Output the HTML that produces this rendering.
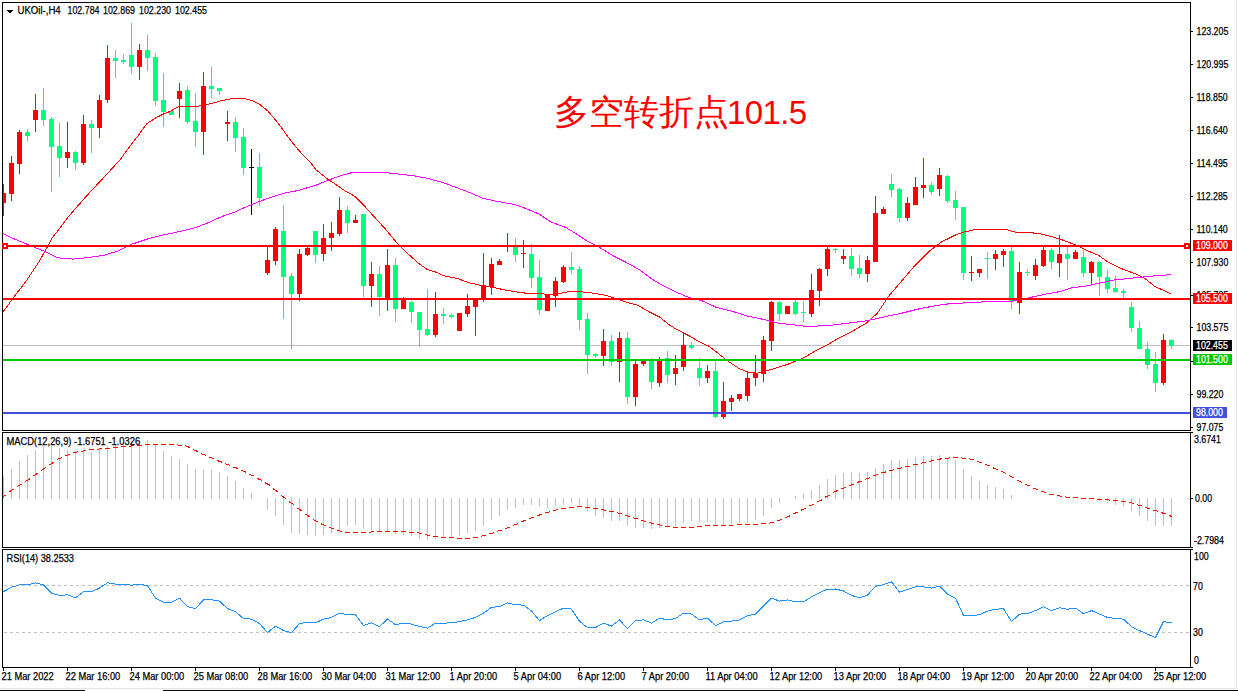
<!DOCTYPE html>
<html><head><meta charset="utf-8"><style>
html,body{margin:0;padding:0;background:#fff;}
body{width:1238px;height:691px;overflow:hidden;position:relative;}
svg{position:absolute;left:0;top:0;}
text{font-family:"Liberation Sans",sans-serif;font-size:10px;stroke-width:0.25px;}
.cn{position:absolute;left:554px;top:92px;color:#ff0000;font-family:"Liberation Sans",sans-serif;font-size:34.5px;white-space:nowrap;line-height:40px;}
.cd{position:absolute;left:727px;top:92.5px;color:#ff0000;font-family:"Liberation Sans",sans-serif;font-size:33px;white-space:nowrap;line-height:40px;letter-spacing:-0.6px;}
</style></head><body>
<svg width="1238" height="691" viewBox="0 0 1238 691" shape-rendering="crispEdges">
<defs>
<clipPath id="cm"><rect x="3" y="3" width="1187" height="427"/></clipPath>
<clipPath id="cd"><rect x="3" y="433" width="1187" height="114"/></clipPath>
<clipPath id="cr"><rect x="3" y="550" width="1187" height="117"/></clipPath>
</defs>
<rect x="1236" y="0" width="1" height="689" fill="#e3e3e3"/>
<rect x="0" y="688" width="1237" height="1" fill="#e3e3e3"/>
<rect x="0" y="690" width="85" height="1" fill="#000"/>
<rect x="163" y="690" width="1075" height="1" fill="#000"/>
<rect x="2" y="2" width="1189" height="1" fill="#000"/>
<rect x="2" y="430" width="1189" height="1" fill="#000"/>
<rect x="2" y="2" width="1" height="429" fill="#000"/>
<rect x="1190" y="2" width="1" height="429" fill="#000"/>
<rect x="2" y="432" width="1189" height="1" fill="#000"/>
<rect x="2" y="547" width="1189" height="1" fill="#000"/>
<rect x="2" y="432" width="1" height="116" fill="#000"/>
<rect x="1190" y="432" width="1" height="116" fill="#000"/>
<rect x="2" y="549" width="1189" height="1" fill="#000"/>
<rect x="2" y="667" width="1189" height="1" fill="#000"/>
<rect x="2" y="549" width="1" height="119" fill="#000"/>
<rect x="1190" y="549" width="1" height="119" fill="#000"/>
<g clip-path="url(#cm)">
<rect x="3" y="345" width="1187" height="1" fill="#c0c0c0"/>
<rect x="3" y="184" width="1" height="32" fill="#ff0000"/>
<rect x="1" y="193" width="5" height="10" fill="#ff0000"/>
<rect x="11" y="156" width="1" height="45" fill="#ff0000"/>
<rect x="9" y="163" width="5" height="31" fill="#ff0000"/>
<rect x="19" y="130" width="1" height="44" fill="#ff0000"/>
<rect x="17" y="132" width="5" height="32" fill="#ff0000"/>
<rect x="27" y="129" width="1" height="12" fill="#00ff7f"/>
<rect x="25" y="132" width="5" height="4" fill="#00ff7f"/>
<rect x="35" y="94" width="1" height="38" fill="#ff0000"/>
<rect x="33" y="110" width="5" height="10" fill="#ff0000"/>
<rect x="43" y="88" width="1" height="38" fill="#00ff7f"/>
<rect x="41" y="110" width="5" height="10" fill="#00ff7f"/>
<rect x="51" y="117" width="1" height="75" fill="#00ff7f"/>
<rect x="49" y="119" width="5" height="28" fill="#00ff7f"/>
<rect x="59" y="123" width="1" height="54" fill="#00ff7f"/>
<rect x="57" y="146" width="5" height="12" fill="#00ff7f"/>
<rect x="67" y="122" width="1" height="46" fill="#ff0000"/>
<rect x="65" y="152" width="5" height="6" fill="#ff0000"/>
<rect x="75" y="151" width="1" height="19" fill="#00ff7f"/>
<rect x="73" y="152" width="5" height="11" fill="#00ff7f"/>
<rect x="83" y="115" width="1" height="50" fill="#ff0000"/>
<rect x="81" y="124" width="5" height="39" fill="#ff0000"/>
<rect x="91" y="120" width="1" height="33" fill="#00ff7f"/>
<rect x="89" y="124" width="5" height="4" fill="#00ff7f"/>
<rect x="99" y="95" width="1" height="43" fill="#ff0000"/>
<rect x="97" y="100" width="5" height="28" fill="#ff0000"/>
<rect x="107" y="45" width="1" height="58" fill="#ff0000"/>
<rect x="105" y="58" width="5" height="42" fill="#ff0000"/>
<rect x="115" y="50" width="1" height="28" fill="#00ff7f"/>
<rect x="113" y="58" width="5" height="3" fill="#00ff7f"/>
<rect x="123" y="54" width="1" height="10" fill="#00ff7f"/>
<rect x="121" y="60" width="5" height="2" fill="#00ff7f"/>
<rect x="131" y="23" width="1" height="51" fill="#00ff7f"/>
<rect x="129" y="55" width="5" height="12" fill="#00ff7f"/>
<rect x="139" y="44" width="1" height="36" fill="#ff0000"/>
<rect x="137" y="50" width="5" height="17" fill="#ff0000"/>
<rect x="147" y="35" width="1" height="36" fill="#00ff7f"/>
<rect x="145" y="50" width="5" height="8" fill="#00ff7f"/>
<rect x="155" y="53" width="1" height="53" fill="#00ff7f"/>
<rect x="153" y="57" width="5" height="44" fill="#00ff7f"/>
<rect x="163" y="73" width="1" height="54" fill="#00ff7f"/>
<rect x="161" y="100" width="5" height="12" fill="#00ff7f"/>
<rect x="171" y="111" width="1" height="4" fill="#00ff7f"/>
<rect x="169" y="111" width="5" height="4" fill="#00ff7f"/>
<rect x="179" y="83" width="1" height="35" fill="#ff0000"/>
<rect x="177" y="91" width="5" height="8" fill="#ff0000"/>
<rect x="187" y="86" width="1" height="38" fill="#00ff7f"/>
<rect x="185" y="90" width="5" height="32" fill="#00ff7f"/>
<rect x="195" y="93" width="1" height="54" fill="#00ff7f"/>
<rect x="193" y="121" width="5" height="11" fill="#00ff7f"/>
<rect x="203" y="72" width="1" height="83" fill="#ff0000"/>
<rect x="201" y="86" width="5" height="46" fill="#ff0000"/>
<rect x="211" y="67" width="1" height="31" fill="#00ff7f"/>
<rect x="209" y="86" width="5" height="3" fill="#00ff7f"/>
<rect x="219" y="88" width="1" height="7" fill="#00ff7f"/>
<rect x="217" y="88" width="5" height="3" fill="#00ff7f"/>
<rect x="227" y="111" width="1" height="30" fill="#ff0000"/>
<rect x="225" y="122" width="5" height="2" fill="#ff0000"/>
<rect x="235" y="117" width="1" height="35" fill="#00ff7f"/>
<rect x="233" y="122" width="5" height="16" fill="#00ff7f"/>
<rect x="243" y="128" width="1" height="47" fill="#00ff7f"/>
<rect x="241" y="137" width="5" height="31" fill="#00ff7f"/>
<rect x="251" y="149" width="1" height="66" fill="#000000"/>
<rect x="249" y="167" width="5" height="1" fill="#000000"/>
<rect x="259" y="153" width="1" height="53" fill="#00ff7f"/>
<rect x="257" y="167" width="5" height="31" fill="#00ff7f"/>
<rect x="267" y="247" width="1" height="28" fill="#ff0000"/>
<rect x="265" y="260" width="5" height="13" fill="#ff0000"/>
<rect x="275" y="227" width="1" height="38" fill="#ff0000"/>
<rect x="273" y="229" width="5" height="32" fill="#ff0000"/>
<rect x="283" y="205" width="1" height="114" fill="#00ff7f"/>
<rect x="281" y="231" width="5" height="46" fill="#00ff7f"/>
<rect x="291" y="273" width="1" height="76" fill="#00ff7f"/>
<rect x="289" y="276" width="5" height="18" fill="#00ff7f"/>
<rect x="299" y="249" width="1" height="52" fill="#ff0000"/>
<rect x="297" y="254" width="5" height="40" fill="#ff0000"/>
<rect x="307" y="247" width="1" height="9" fill="#ff0000"/>
<rect x="305" y="248" width="5" height="7" fill="#ff0000"/>
<rect x="315" y="231" width="1" height="32" fill="#00ff7f"/>
<rect x="313" y="231" width="5" height="24" fill="#00ff7f"/>
<rect x="323" y="224" width="1" height="37" fill="#ff0000"/>
<rect x="321" y="238" width="5" height="16" fill="#ff0000"/>
<rect x="331" y="222" width="1" height="29" fill="#ff0000"/>
<rect x="329" y="233" width="5" height="5" fill="#ff0000"/>
<rect x="339" y="197" width="1" height="39" fill="#ff0000"/>
<rect x="337" y="210" width="5" height="24" fill="#ff0000"/>
<rect x="347" y="206" width="1" height="27" fill="#00ff7f"/>
<rect x="345" y="210" width="5" height="13" fill="#00ff7f"/>
<rect x="355" y="215" width="1" height="8" fill="#ff0000"/>
<rect x="353" y="220" width="5" height="3" fill="#ff0000"/>
<rect x="363" y="214" width="1" height="83" fill="#00ff7f"/>
<rect x="361" y="214" width="5" height="72" fill="#00ff7f"/>
<rect x="371" y="262" width="1" height="45" fill="#ff0000"/>
<rect x="369" y="274" width="5" height="12" fill="#ff0000"/>
<rect x="379" y="266" width="1" height="50" fill="#00ff7f"/>
<rect x="377" y="274" width="5" height="23" fill="#00ff7f"/>
<rect x="387" y="249" width="1" height="62" fill="#ff0000"/>
<rect x="385" y="265" width="5" height="33" fill="#ff0000"/>
<rect x="395" y="258" width="1" height="64" fill="#00ff7f"/>
<rect x="393" y="265" width="5" height="44" fill="#00ff7f"/>
<rect x="403" y="297" width="1" height="12" fill="#ff0000"/>
<rect x="401" y="299" width="5" height="10" fill="#ff0000"/>
<rect x="411" y="301" width="1" height="22" fill="#00ff7f"/>
<rect x="409" y="302" width="5" height="10" fill="#00ff7f"/>
<rect x="419" y="312" width="1" height="35" fill="#00ff7f"/>
<rect x="417" y="312" width="5" height="18" fill="#00ff7f"/>
<rect x="427" y="289" width="1" height="47" fill="#00ff7f"/>
<rect x="425" y="329" width="5" height="6" fill="#00ff7f"/>
<rect x="435" y="292" width="1" height="45" fill="#ff0000"/>
<rect x="433" y="314" width="5" height="21" fill="#ff0000"/>
<rect x="443" y="308" width="1" height="16" fill="#00ff7f"/>
<rect x="441" y="314" width="5" height="2" fill="#00ff7f"/>
<rect x="451" y="313" width="1" height="5" fill="#00ff7f"/>
<rect x="449" y="315" width="5" height="2" fill="#00ff7f"/>
<rect x="459" y="313" width="1" height="18" fill="#ff0000"/>
<rect x="457" y="313" width="5" height="18" fill="#ff0000"/>
<rect x="467" y="294" width="1" height="23" fill="#ff0000"/>
<rect x="465" y="306" width="5" height="8" fill="#ff0000"/>
<rect x="475" y="298" width="1" height="38" fill="#ff0000"/>
<rect x="473" y="299" width="5" height="8" fill="#ff0000"/>
<rect x="483" y="253" width="1" height="49" fill="#ff0000"/>
<rect x="481" y="285" width="5" height="14" fill="#ff0000"/>
<rect x="491" y="258" width="1" height="37" fill="#ff0000"/>
<rect x="489" y="264" width="5" height="23" fill="#ff0000"/>
<rect x="499" y="259" width="1" height="6" fill="#ff0000"/>
<rect x="497" y="261" width="5" height="4" fill="#ff0000"/>
<rect x="507" y="233" width="1" height="19" fill="#ff0000"/>
<rect x="505" y="246" width="5" height="1" fill="#ff0000"/>
<rect x="515" y="238" width="1" height="24" fill="#00ff7f"/>
<rect x="513" y="247" width="5" height="8" fill="#00ff7f"/>
<rect x="523" y="240" width="1" height="28" fill="#ff0000"/>
<rect x="521" y="253" width="5" height="1" fill="#ff0000"/>
<rect x="531" y="244" width="1" height="44" fill="#00ff7f"/>
<rect x="529" y="254" width="5" height="24" fill="#00ff7f"/>
<rect x="539" y="260" width="1" height="55" fill="#00ff7f"/>
<rect x="537" y="277" width="5" height="33" fill="#00ff7f"/>
<rect x="547" y="294" width="1" height="17" fill="#ff0000"/>
<rect x="545" y="295" width="5" height="16" fill="#ff0000"/>
<rect x="555" y="277" width="1" height="30" fill="#ff0000"/>
<rect x="553" y="281" width="5" height="15" fill="#ff0000"/>
<rect x="563" y="265" width="1" height="18" fill="#ff0000"/>
<rect x="561" y="267" width="5" height="15" fill="#ff0000"/>
<rect x="571" y="252" width="1" height="22" fill="#00ff7f"/>
<rect x="569" y="267" width="5" height="3" fill="#00ff7f"/>
<rect x="579" y="266" width="1" height="64" fill="#00ff7f"/>
<rect x="577" y="269" width="5" height="51" fill="#00ff7f"/>
<rect x="587" y="313" width="1" height="61" fill="#00ff7f"/>
<rect x="585" y="319" width="5" height="36" fill="#00ff7f"/>
<rect x="595" y="353" width="1" height="5" fill="#00ff7f"/>
<rect x="593" y="354" width="5" height="2" fill="#00ff7f"/>
<rect x="603" y="329" width="1" height="37" fill="#ff0000"/>
<rect x="601" y="341" width="5" height="15" fill="#ff0000"/>
<rect x="611" y="335" width="1" height="31" fill="#00ff7f"/>
<rect x="609" y="341" width="5" height="21" fill="#00ff7f"/>
<rect x="619" y="332" width="1" height="50" fill="#ff0000"/>
<rect x="617" y="338" width="5" height="24" fill="#ff0000"/>
<rect x="627" y="332" width="1" height="72" fill="#00ff7f"/>
<rect x="625" y="338" width="5" height="59" fill="#00ff7f"/>
<rect x="635" y="361" width="1" height="45" fill="#ff0000"/>
<rect x="633" y="364" width="5" height="33" fill="#ff0000"/>
<rect x="643" y="359" width="1" height="7" fill="#ff0000"/>
<rect x="641" y="361" width="5" height="3" fill="#ff0000"/>
<rect x="651" y="358" width="1" height="31" fill="#00ff7f"/>
<rect x="649" y="359" width="5" height="23" fill="#00ff7f"/>
<rect x="659" y="357" width="1" height="30" fill="#ff0000"/>
<rect x="657" y="359" width="5" height="24" fill="#ff0000"/>
<rect x="667" y="351" width="1" height="32" fill="#00ff7f"/>
<rect x="665" y="358" width="5" height="17" fill="#00ff7f"/>
<rect x="675" y="355" width="1" height="30" fill="#ff0000"/>
<rect x="673" y="368" width="5" height="6" fill="#ff0000"/>
<rect x="683" y="332" width="1" height="39" fill="#ff0000"/>
<rect x="681" y="345" width="5" height="22" fill="#ff0000"/>
<rect x="691" y="342" width="1" height="7" fill="#00ff7f"/>
<rect x="689" y="345" width="5" height="3" fill="#00ff7f"/>
<rect x="699" y="358" width="1" height="28" fill="#00ff7f"/>
<rect x="697" y="368" width="5" height="10" fill="#00ff7f"/>
<rect x="707" y="365" width="1" height="18" fill="#ff0000"/>
<rect x="705" y="371" width="5" height="7" fill="#ff0000"/>
<rect x="715" y="359" width="1" height="59" fill="#00ff7f"/>
<rect x="713" y="371" width="5" height="46" fill="#00ff7f"/>
<rect x="723" y="382" width="1" height="37" fill="#ff0000"/>
<rect x="721" y="401" width="5" height="16" fill="#ff0000"/>
<rect x="731" y="395" width="1" height="16" fill="#ff0000"/>
<rect x="729" y="398" width="5" height="4" fill="#ff0000"/>
<rect x="739" y="394" width="1" height="7" fill="#ff0000"/>
<rect x="737" y="394" width="5" height="5" fill="#ff0000"/>
<rect x="747" y="371" width="1" height="30" fill="#ff0000"/>
<rect x="745" y="378" width="5" height="18" fill="#ff0000"/>
<rect x="755" y="355" width="1" height="31" fill="#ff0000"/>
<rect x="753" y="373" width="5" height="5" fill="#ff0000"/>
<rect x="763" y="336" width="1" height="46" fill="#ff0000"/>
<rect x="761" y="340" width="5" height="34" fill="#ff0000"/>
<rect x="771" y="301" width="1" height="50" fill="#ff0000"/>
<rect x="769" y="302" width="5" height="39" fill="#ff0000"/>
<rect x="779" y="301" width="1" height="20" fill="#00ff7f"/>
<rect x="777" y="302" width="5" height="12" fill="#00ff7f"/>
<rect x="787" y="306" width="1" height="8" fill="#ff0000"/>
<rect x="785" y="306" width="5" height="8" fill="#ff0000"/>
<rect x="795" y="300" width="1" height="15" fill="#00ff7f"/>
<rect x="793" y="302" width="5" height="12" fill="#00ff7f"/>
<rect x="803" y="301" width="1" height="21" fill="#00ff7f"/>
<rect x="801" y="312" width="5" height="1" fill="#00ff7f"/>
<rect x="811" y="274" width="1" height="43" fill="#ff0000"/>
<rect x="809" y="290" width="5" height="24" fill="#ff0000"/>
<rect x="819" y="268" width="1" height="38" fill="#ff0000"/>
<rect x="817" y="269" width="5" height="22" fill="#ff0000"/>
<rect x="827" y="247" width="1" height="29" fill="#ff0000"/>
<rect x="825" y="249" width="5" height="20" fill="#ff0000"/>
<rect x="835" y="248" width="1" height="5" fill="#00ff7f"/>
<rect x="833" y="249" width="5" height="1" fill="#00ff7f"/>
<rect x="843" y="249" width="1" height="15" fill="#ff0000"/>
<rect x="841" y="256" width="5" height="3" fill="#ff0000"/>
<rect x="851" y="248" width="1" height="28" fill="#00ff7f"/>
<rect x="849" y="256" width="5" height="13" fill="#00ff7f"/>
<rect x="859" y="255" width="1" height="23" fill="#00ff7f"/>
<rect x="857" y="268" width="5" height="6" fill="#00ff7f"/>
<rect x="867" y="256" width="1" height="26" fill="#ff0000"/>
<rect x="865" y="260" width="5" height="14" fill="#ff0000"/>
<rect x="875" y="196" width="1" height="66" fill="#ff0000"/>
<rect x="873" y="213" width="5" height="49" fill="#ff0000"/>
<rect x="883" y="207" width="1" height="7" fill="#ff0000"/>
<rect x="881" y="209" width="5" height="5" fill="#ff0000"/>
<rect x="891" y="174" width="1" height="23" fill="#00ff7f"/>
<rect x="889" y="184" width="5" height="6" fill="#00ff7f"/>
<rect x="899" y="188" width="1" height="34" fill="#00ff7f"/>
<rect x="897" y="189" width="5" height="29" fill="#00ff7f"/>
<rect x="907" y="197" width="1" height="24" fill="#ff0000"/>
<rect x="905" y="203" width="5" height="15" fill="#ff0000"/>
<rect x="915" y="177" width="1" height="28" fill="#ff0000"/>
<rect x="913" y="187" width="5" height="18" fill="#ff0000"/>
<rect x="923" y="158" width="1" height="40" fill="#ff0000"/>
<rect x="921" y="185" width="5" height="3" fill="#ff0000"/>
<rect x="931" y="182" width="1" height="13" fill="#00ff7f"/>
<rect x="929" y="185" width="5" height="7" fill="#00ff7f"/>
<rect x="939" y="168" width="1" height="28" fill="#ff0000"/>
<rect x="937" y="175" width="5" height="14" fill="#ff0000"/>
<rect x="947" y="175" width="1" height="28" fill="#00ff7f"/>
<rect x="945" y="176" width="5" height="25" fill="#00ff7f"/>
<rect x="955" y="191" width="1" height="29" fill="#00ff7f"/>
<rect x="953" y="200" width="5" height="8" fill="#00ff7f"/>
<rect x="963" y="207" width="1" height="73" fill="#00ff7f"/>
<rect x="961" y="207" width="5" height="66" fill="#00ff7f"/>
<rect x="971" y="256" width="1" height="25" fill="#ff0000"/>
<rect x="969" y="272" width="5" height="1" fill="#ff0000"/>
<rect x="979" y="269" width="1" height="8" fill="#ff0000"/>
<rect x="977" y="269" width="5" height="4" fill="#ff0000"/>
<rect x="987" y="252" width="1" height="27" fill="#00ff7f"/>
<rect x="985" y="258" width="5" height="1" fill="#00ff7f"/>
<rect x="995" y="250" width="1" height="20" fill="#ff0000"/>
<rect x="993" y="254" width="5" height="5" fill="#ff0000"/>
<rect x="1003" y="249" width="1" height="18" fill="#ff0000"/>
<rect x="1001" y="251" width="5" height="4" fill="#ff0000"/>
<rect x="1011" y="247" width="1" height="62" fill="#00ff7f"/>
<rect x="1009" y="251" width="5" height="51" fill="#00ff7f"/>
<rect x="1019" y="262" width="1" height="52" fill="#ff0000"/>
<rect x="1017" y="272" width="5" height="31" fill="#ff0000"/>
<rect x="1027" y="269" width="1" height="7" fill="#00ff7f"/>
<rect x="1025" y="272" width="5" height="1" fill="#00ff7f"/>
<rect x="1035" y="259" width="1" height="21" fill="#ff0000"/>
<rect x="1033" y="265" width="5" height="11" fill="#ff0000"/>
<rect x="1043" y="246" width="1" height="21" fill="#ff0000"/>
<rect x="1041" y="250" width="5" height="16" fill="#ff0000"/>
<rect x="1051" y="248" width="1" height="21" fill="#00ff7f"/>
<rect x="1049" y="250" width="5" height="12" fill="#00ff7f"/>
<rect x="1059" y="235" width="1" height="42" fill="#ff0000"/>
<rect x="1057" y="254" width="5" height="9" fill="#ff0000"/>
<rect x="1067" y="247" width="1" height="33" fill="#00ff7f"/>
<rect x="1065" y="254" width="5" height="5" fill="#00ff7f"/>
<rect x="1075" y="250" width="1" height="9" fill="#ff0000"/>
<rect x="1073" y="252" width="5" height="7" fill="#ff0000"/>
<rect x="1083" y="250" width="1" height="27" fill="#00ff7f"/>
<rect x="1081" y="257" width="5" height="16" fill="#00ff7f"/>
<rect x="1091" y="261" width="1" height="23" fill="#ff0000"/>
<rect x="1089" y="262" width="5" height="11" fill="#ff0000"/>
<rect x="1099" y="261" width="1" height="35" fill="#00ff7f"/>
<rect x="1097" y="262" width="5" height="15" fill="#00ff7f"/>
<rect x="1107" y="270" width="1" height="23" fill="#00ff7f"/>
<rect x="1105" y="277" width="5" height="12" fill="#00ff7f"/>
<rect x="1115" y="276" width="1" height="17" fill="#00ff7f"/>
<rect x="1113" y="288" width="5" height="4" fill="#00ff7f"/>
<rect x="1123" y="289" width="1" height="9" fill="#00ff7f"/>
<rect x="1121" y="291" width="5" height="2" fill="#00ff7f"/>
<rect x="1131" y="302" width="1" height="30" fill="#00ff7f"/>
<rect x="1129" y="307" width="5" height="21" fill="#00ff7f"/>
<rect x="1139" y="321" width="1" height="28" fill="#00ff7f"/>
<rect x="1137" y="328" width="5" height="21" fill="#00ff7f"/>
<rect x="1147" y="342" width="1" height="27" fill="#00ff7f"/>
<rect x="1145" y="349" width="5" height="16" fill="#00ff7f"/>
<rect x="1155" y="352" width="1" height="40" fill="#00ff7f"/>
<rect x="1153" y="364" width="5" height="19" fill="#00ff7f"/>
<rect x="1163" y="334" width="1" height="51" fill="#ff0000"/>
<rect x="1161" y="340" width="5" height="43" fill="#ff0000"/>
<rect x="1171" y="339" width="1" height="10" fill="#00ff7f"/>
<rect x="1169" y="340" width="5" height="6" fill="#00ff7f"/>
<polyline points="2.6,312.5 13.0,298.2 26.0,281.2 39.1,261.7 52.1,238.2 67.8,217.4 86.0,196.5 104.2,177.0 119.9,160.0 130.0,146.1 138.1,135.6 147.0,123.5 155.8,117.8 163.9,113.8 170.4,111.3 178.5,106.5 196.2,106.5 201.1,105.7 212.4,103.3 220.5,100.8 231.8,98.7 244.7,98.7 252.8,100.8 259.2,104.1 267.3,110.5 275.8,120.3 281.6,127.9 287.4,136.0 293.1,143.5 298.9,150.4 304.7,156.8 310.5,162.6 316.3,170.1 322.1,174.7 327.9,179.3 333.9,183.1 344.7,190.7 354.5,196.1 364.3,205.9 375.1,217.8 386.0,229.7 396.8,242.8 407.7,253.6 418.6,263.4 427.2,269.5 435.9,272.1 444.6,276.0 457.6,278.6 470.0,283.0 481.3,285.4 494.4,287.7 507.6,290.5 522.7,292.9 535.8,293.7 550.9,294.3 560.3,293.3 567.8,291.8 580.9,291.8 594.1,293.3 605.4,295.2 616.7,299.0 630.0,303.3 637.8,305.2 649.5,312.0 659.3,316.9 669.1,324.7 676.9,329.6 688.6,335.5 700.3,342.3 708.2,345.9 717.9,353.1 727.7,360.9 739.4,368.7 749.2,372.6 757.0,373.2 766.8,370.7 778.5,367.3 790.0,363.5 803.5,357.9 816.9,350.1 828.1,344.5 839.3,337.7 852.8,331.0 866.3,323.1 877.5,313.1 888.7,296.2 902.1,280.5 915.6,264.8 929.0,251.4 942.5,241.3 950.0,237.8 957.4,234.1 964.9,231.8 976.0,229.4 1005.7,229.4 1016.9,232.6 1037.3,233.1 1050.3,236.3 1061.5,239.6 1076.3,245.2 1087.5,250.8 1098.6,255.4 1107.9,261.9 1120.9,268.4 1135.8,274.0 1145.1,278.7 1154.3,286.1 1171.1,293.9" fill="none" stroke="#ff0000" stroke-width="1"/>
<polyline points="2.6,233.5 15.6,239.5 31.3,246.0 44.3,251.2 57.3,257.8 73.0,259.1 86.0,257.8 104.2,255.2 117.3,251.2 130.3,244.7 150.0,238.2 162.9,235.0 175.8,232.4 195.2,227.8 208.2,222.7 221.1,216.9 234.0,212.3 246.9,206.5 259.9,201.3 274.1,196.2 285.7,192.9 298.6,190.4 316.3,185.1 329.0,179.9 340.0,175.9 353.4,172.2 381.6,172.2 396.8,173.9 412.0,175.5 427.2,178.3 444.6,183.1 462.0,189.6 470.0,192.7 483.2,198.4 496.3,201.2 515.1,204.6 526.4,208.7 539.6,214.3 550.9,221.9 565.9,227.5 575.3,233.2 586.6,240.7 597.9,246.3 612.9,255.7 626.1,262.3 639.8,270.0 651.5,278.8 661.3,284.7 674.9,291.5 688.6,297.4 702.3,300.9 716.0,307.2 731.6,311.1 747.2,316.0 762.9,319.3 778.5,323.2 807.9,326.5 830.4,325.4 848.3,323.1 866.3,320.9 884.2,316.9 902.1,313.1 920.1,308.6 938.0,305.2 950.0,303.7 983.4,301.9 1011.3,301.3 1031.7,297.2 1046.6,293.9 1061.5,291.3 1070.7,288.0 1085.6,286.1 1098.6,283.3 1113.5,280.1 1135.8,277.7 1154.3,275.9 1171.1,274.6" fill="none" stroke="#ff00ff" stroke-width="1"/>
<rect x="3" y="245" width="1187" height="2" fill="#ff0000"/>
<rect x="3" y="298" width="1187" height="2" fill="#ff0000"/>
<rect x="3" y="359" width="1187" height="2" fill="#00c800"/>
<rect x="3" y="412" width="1187" height="2" fill="#4050dd"/>
</g>
<rect x="2" y="243" width="6" height="6" fill="#ff0000"/>
<rect x="4" y="245" width="2" height="2" fill="#fff"/>
<rect x="1184" y="243" width="6" height="6" fill="#ff0000"/>
<rect x="1186" y="245" width="2" height="2" fill="#fff"/>
<g clip-path="url(#cd)">
<rect x="3" y="476" width="1" height="23" fill="#c0c0c0"/>
<rect x="11" y="469" width="1" height="30" fill="#c0c0c0"/>
<rect x="19" y="461" width="1" height="38" fill="#c0c0c0"/>
<rect x="27" y="455" width="1" height="44" fill="#c0c0c0"/>
<rect x="35" y="450" width="1" height="49" fill="#c0c0c0"/>
<rect x="43" y="446" width="1" height="53" fill="#c0c0c0"/>
<rect x="51" y="446" width="1" height="53" fill="#c0c0c0"/>
<rect x="59" y="448" width="1" height="51" fill="#c0c0c0"/>
<rect x="67" y="450" width="1" height="49" fill="#c0c0c0"/>
<rect x="75" y="451" width="1" height="48" fill="#c0c0c0"/>
<rect x="83" y="451" width="1" height="48" fill="#c0c0c0"/>
<rect x="91" y="452" width="1" height="47" fill="#c0c0c0"/>
<rect x="99" y="450" width="1" height="49" fill="#c0c0c0"/>
<rect x="107" y="446" width="1" height="53" fill="#c0c0c0"/>
<rect x="115" y="444" width="1" height="55" fill="#c0c0c0"/>
<rect x="123" y="442" width="1" height="57" fill="#c0c0c0"/>
<rect x="131" y="441" width="1" height="58" fill="#c0c0c0"/>
<rect x="139" y="440" width="1" height="59" fill="#c0c0c0"/>
<rect x="147" y="440" width="1" height="59" fill="#c0c0c0"/>
<rect x="155" y="445" width="1" height="54" fill="#c0c0c0"/>
<rect x="163" y="451" width="1" height="48" fill="#c0c0c0"/>
<rect x="171" y="456" width="1" height="43" fill="#c0c0c0"/>
<rect x="179" y="459" width="1" height="40" fill="#c0c0c0"/>
<rect x="187" y="464" width="1" height="35" fill="#c0c0c0"/>
<rect x="195" y="469" width="1" height="30" fill="#c0c0c0"/>
<rect x="203" y="470" width="1" height="29" fill="#c0c0c0"/>
<rect x="211" y="470" width="1" height="29" fill="#c0c0c0"/>
<rect x="219" y="472" width="1" height="27" fill="#c0c0c0"/>
<rect x="227" y="476" width="1" height="23" fill="#c0c0c0"/>
<rect x="235" y="481" width="1" height="18" fill="#c0c0c0"/>
<rect x="243" y="488" width="1" height="11" fill="#c0c0c0"/>
<rect x="251" y="493" width="1" height="6" fill="#c0c0c0"/>
<rect x="267" y="498" width="1" height="12" fill="#c0c0c0"/>
<rect x="275" y="498" width="1" height="18" fill="#c0c0c0"/>
<rect x="283" y="498" width="1" height="27" fill="#c0c0c0"/>
<rect x="291" y="498" width="1" height="35" fill="#c0c0c0"/>
<rect x="299" y="498" width="1" height="36" fill="#c0c0c0"/>
<rect x="307" y="498" width="1" height="37" fill="#c0c0c0"/>
<rect x="315" y="498" width="1" height="38" fill="#c0c0c0"/>
<rect x="323" y="498" width="1" height="37" fill="#c0c0c0"/>
<rect x="331" y="498" width="1" height="35" fill="#c0c0c0"/>
<rect x="339" y="498" width="1" height="32" fill="#c0c0c0"/>
<rect x="347" y="498" width="1" height="28" fill="#c0c0c0"/>
<rect x="355" y="498" width="1" height="27" fill="#c0c0c0"/>
<rect x="363" y="498" width="1" height="31" fill="#c0c0c0"/>
<rect x="371" y="498" width="1" height="32" fill="#c0c0c0"/>
<rect x="379" y="498" width="1" height="33" fill="#c0c0c0"/>
<rect x="387" y="498" width="1" height="33" fill="#c0c0c0"/>
<rect x="395" y="498" width="1" height="36" fill="#c0c0c0"/>
<rect x="403" y="498" width="1" height="37" fill="#c0c0c0"/>
<rect x="411" y="498" width="1" height="38" fill="#c0c0c0"/>
<rect x="419" y="498" width="1" height="41" fill="#c0c0c0"/>
<rect x="427" y="498" width="1" height="42" fill="#c0c0c0"/>
<rect x="435" y="498" width="1" height="41" fill="#c0c0c0"/>
<rect x="443" y="498" width="1" height="40" fill="#c0c0c0"/>
<rect x="451" y="498" width="1" height="40" fill="#c0c0c0"/>
<rect x="459" y="498" width="1" height="38" fill="#c0c0c0"/>
<rect x="467" y="498" width="1" height="35" fill="#c0c0c0"/>
<rect x="475" y="498" width="1" height="33" fill="#c0c0c0"/>
<rect x="483" y="498" width="1" height="28" fill="#c0c0c0"/>
<rect x="491" y="498" width="1" height="22" fill="#c0c0c0"/>
<rect x="499" y="498" width="1" height="18" fill="#c0c0c0"/>
<rect x="507" y="498" width="1" height="12" fill="#c0c0c0"/>
<rect x="515" y="498" width="1" height="10" fill="#c0c0c0"/>
<rect x="523" y="498" width="1" height="7" fill="#c0c0c0"/>
<rect x="531" y="498" width="1" height="7" fill="#c0c0c0"/>
<rect x="539" y="498" width="1" height="8" fill="#c0c0c0"/>
<rect x="547" y="498" width="1" height="10" fill="#c0c0c0"/>
<rect x="555" y="498" width="1" height="8" fill="#c0c0c0"/>
<rect x="563" y="498" width="1" height="7" fill="#c0c0c0"/>
<rect x="571" y="498" width="1" height="5" fill="#c0c0c0"/>
<rect x="579" y="498" width="1" height="7" fill="#c0c0c0"/>
<rect x="587" y="498" width="1" height="13" fill="#c0c0c0"/>
<rect x="595" y="498" width="1" height="18" fill="#c0c0c0"/>
<rect x="603" y="498" width="1" height="20" fill="#c0c0c0"/>
<rect x="611" y="498" width="1" height="23" fill="#c0c0c0"/>
<rect x="619" y="498" width="1" height="23" fill="#c0c0c0"/>
<rect x="627" y="498" width="1" height="28" fill="#c0c0c0"/>
<rect x="635" y="498" width="1" height="30" fill="#c0c0c0"/>
<rect x="643" y="498" width="1" height="30" fill="#c0c0c0"/>
<rect x="651" y="498" width="1" height="31" fill="#c0c0c0"/>
<rect x="659" y="498" width="1" height="30" fill="#c0c0c0"/>
<rect x="667" y="498" width="1" height="28" fill="#c0c0c0"/>
<rect x="675" y="498" width="1" height="28" fill="#c0c0c0"/>
<rect x="683" y="498" width="1" height="25" fill="#c0c0c0"/>
<rect x="691" y="498" width="1" height="23" fill="#c0c0c0"/>
<rect x="699" y="498" width="1" height="24" fill="#c0c0c0"/>
<rect x="707" y="498" width="1" height="24" fill="#c0c0c0"/>
<rect x="715" y="498" width="1" height="27" fill="#c0c0c0"/>
<rect x="723" y="498" width="1" height="27" fill="#c0c0c0"/>
<rect x="731" y="498" width="1" height="26" fill="#c0c0c0"/>
<rect x="739" y="498" width="1" height="25" fill="#c0c0c0"/>
<rect x="747" y="498" width="1" height="25" fill="#c0c0c0"/>
<rect x="755" y="498" width="1" height="22" fill="#c0c0c0"/>
<rect x="763" y="498" width="1" height="18" fill="#c0c0c0"/>
<rect x="771" y="498" width="1" height="10" fill="#c0c0c0"/>
<rect x="779" y="498" width="1" height="5" fill="#c0c0c0"/>
<rect x="795" y="496" width="1" height="3" fill="#c0c0c0"/>
<rect x="803" y="494" width="1" height="5" fill="#c0c0c0"/>
<rect x="811" y="490" width="1" height="9" fill="#c0c0c0"/>
<rect x="819" y="485" width="1" height="14" fill="#c0c0c0"/>
<rect x="827" y="479" width="1" height="20" fill="#c0c0c0"/>
<rect x="835" y="475" width="1" height="24" fill="#c0c0c0"/>
<rect x="843" y="473" width="1" height="26" fill="#c0c0c0"/>
<rect x="851" y="472" width="1" height="27" fill="#c0c0c0"/>
<rect x="859" y="473" width="1" height="26" fill="#c0c0c0"/>
<rect x="867" y="472" width="1" height="27" fill="#c0c0c0"/>
<rect x="875" y="468" width="1" height="31" fill="#c0c0c0"/>
<rect x="883" y="464" width="1" height="35" fill="#c0c0c0"/>
<rect x="891" y="460" width="1" height="39" fill="#c0c0c0"/>
<rect x="899" y="460" width="1" height="39" fill="#c0c0c0"/>
<rect x="907" y="459" width="1" height="40" fill="#c0c0c0"/>
<rect x="915" y="457" width="1" height="42" fill="#c0c0c0"/>
<rect x="923" y="456" width="1" height="43" fill="#c0c0c0"/>
<rect x="931" y="456" width="1" height="43" fill="#c0c0c0"/>
<rect x="939" y="455" width="1" height="44" fill="#c0c0c0"/>
<rect x="947" y="458" width="1" height="41" fill="#c0c0c0"/>
<rect x="955" y="460" width="1" height="39" fill="#c0c0c0"/>
<rect x="963" y="469" width="1" height="30" fill="#c0c0c0"/>
<rect x="971" y="476" width="1" height="23" fill="#c0c0c0"/>
<rect x="979" y="481" width="1" height="18" fill="#c0c0c0"/>
<rect x="987" y="485" width="1" height="14" fill="#c0c0c0"/>
<rect x="995" y="487" width="1" height="12" fill="#c0c0c0"/>
<rect x="1003" y="489" width="1" height="10" fill="#c0c0c0"/>
<rect x="1011" y="495" width="1" height="4" fill="#c0c0c0"/>
<rect x="1099" y="498" width="1" height="3" fill="#c0c0c0"/>
<rect x="1107" y="498" width="1" height="5" fill="#c0c0c0"/>
<rect x="1115" y="498" width="1" height="7" fill="#c0c0c0"/>
<rect x="1123" y="498" width="1" height="8" fill="#c0c0c0"/>
<rect x="1131" y="498" width="1" height="13" fill="#c0c0c0"/>
<rect x="1139" y="498" width="1" height="18" fill="#c0c0c0"/>
<rect x="1147" y="498" width="1" height="23" fill="#c0c0c0"/>
<rect x="1155" y="498" width="1" height="28" fill="#c0c0c0"/>
<rect x="1163" y="498" width="1" height="28" fill="#c0c0c0"/>
<rect x="1171" y="498" width="1" height="28" fill="#c0c0c0"/>
<path d="M3,496.5L6,494.9M9,491.9L14,489.0M17,486.5L22,484.0M25,481.5L30,478.8M33,476.0L38,473.2M41,470.4L46,467.6M49,464.9L54,462.2M57,459.6L62,457.4M65,455.9L70,454.4M73,452.9L78,451.9M81,451.3L86,450.6M89,450.0L94,449.5M97,449.1L102,448.8M105,448.4L110,448.0M113,447.6L118,447.3M121,446.9L126,446.5M129,446.1L134,445.8M137,445.4L142,445.1M145,444.8L150,444.4M153,444.1L158,444.1M161,444.2L166,444.3M169,444.5L174,444.6M177,444.9L182,445.3M185,445.7L190,447.6M193,449.6L198,451.6M201,453.6L206,455.4M209,457.1L214,458.8M217,460.5L222,462.2M225,463.7L230,465.3M233,466.9L238,468.5M241,470.4L246,472.2M249,474.1L254,476.1M257,478.3L262,480.5M265,482.7L270,485.3M273,488.7L278,492.0M281,495.3L286,498.6M289,501.7L294,504.8M297,507.9L302,511.0M305,513.9L310,516.8M313,519.5L318,521.8M321,523.8L326,525.7M329,527.4L334,529.0M337,530.3L342,531.4M345,532.4L350,532.8M353,532.7L358,532.6M361,532.5L366,532.3M369,532.1L374,531.9M377,531.7L382,531.6M385,531.6L390,531.6M393,531.6L398,531.6M401,531.6L406,531.7M409,532.1L414,532.4M417,532.7L422,533.5M425,534.7L430,535.6M433,536.1L438,536.6M441,537.1L446,537.5M449,537.8L454,538.0M457,538.3L462,538.3M465,538.2L470,538.1M473,538.0L478,537.4M481,536.3L486,535.2M489,534.0L494,532.8M497,531.4L502,530.0M505,528.6L510,527.1M513,525.3L518,523.6M521,521.8L526,520.2M529,518.7L534,517.2M537,515.7L542,514.3M545,513.1L550,511.8M553,510.6L558,509.6M561,508.9L566,508.3M569,507.7L574,507.2M577,506.8L582,506.8M585,507.2L590,507.6M593,508.0L598,508.6M601,509.5L606,510.3M609,511.2L614,512.0M617,512.9L622,513.9M625,515.2L630,516.4M633,517.7L638,518.9M641,520.2L646,521.4M649,522.6L654,523.7M657,524.5L662,525.3M665,526.2L670,526.8M673,527.1L678,527.3M681,527.3L686,527.3M689,527.3L694,527.1M697,526.8L702,526.4M705,526.0L710,525.7M713,525.6L718,525.5M721,525.4L726,525.2M729,525.1L734,525.0M737,524.9L742,524.7M745,524.6L750,524.5M753,524.4L758,524.1M761,523.8L766,523.4M769,523.1L774,522.5M777,520.9L782,519.2M785,517.6L790,515.8M793,513.9L798,512.1M801,510.2L806,508.2M809,506.1L814,504.1M817,502.0L822,499.8M825,497.3L830,494.9M833,492.5L838,490.4M841,488.8L846,487.3M849,485.7L854,484.1M857,482.5L862,480.9M865,479.3L870,477.7M873,476.1L878,474.5M881,473.0L886,471.9M889,470.8L894,469.8M897,468.9L902,467.9M905,467.0L910,466.0M913,465.1L918,464.1M921,463.2L926,462.3M929,461.3L934,460.4M937,459.5L942,458.8M945,458.3L950,457.9M953,457.4L958,457.4M961,457.9L966,458.3M969,458.8L974,459.7M977,461.3L982,462.9M985,464.4L990,466.1M993,467.8L998,469.6M1001,471.3L1006,473.3M1009,475.6L1014,477.9M1017,480.2L1022,482.3M1025,484.2L1030,486.1M1033,488.0L1038,489.6M1041,491.1L1046,492.5M1049,494.0L1054,495.1M1057,495.7L1062,496.3M1065,496.9L1070,497.4M1073,497.7L1078,497.9M1081,498.2L1086,498.4M1089,498.6L1094,498.8M1097,499.0L1102,499.3M1105,499.7L1110,500.1M1113,500.6L1118,501.0M1121,501.5L1126,502.0M1129,502.5L1134,503.3M1137,504.7L1142,506.1M1145,507.5L1150,508.8M1153,510.1L1158,511.3M1161,512.6L1166,514.0M1169,515.6L1172,516.4" stroke="#ff0000" stroke-width="1" fill="none"/>
</g>
<g clip-path="url(#cr)">
<rect x="4" y="585" width="3" height="1" fill="#c0c0c0"/>
<rect x="10" y="585" width="3" height="1" fill="#c0c0c0"/>
<rect x="16" y="585" width="3" height="1" fill="#c0c0c0"/>
<rect x="22" y="585" width="3" height="1" fill="#c0c0c0"/>
<rect x="28" y="585" width="3" height="1" fill="#c0c0c0"/>
<rect x="34" y="585" width="3" height="1" fill="#c0c0c0"/>
<rect x="40" y="585" width="3" height="1" fill="#c0c0c0"/>
<rect x="46" y="585" width="3" height="1" fill="#c0c0c0"/>
<rect x="52" y="585" width="3" height="1" fill="#c0c0c0"/>
<rect x="58" y="585" width="3" height="1" fill="#c0c0c0"/>
<rect x="64" y="585" width="3" height="1" fill="#c0c0c0"/>
<rect x="70" y="585" width="3" height="1" fill="#c0c0c0"/>
<rect x="76" y="585" width="3" height="1" fill="#c0c0c0"/>
<rect x="82" y="585" width="3" height="1" fill="#c0c0c0"/>
<rect x="88" y="585" width="3" height="1" fill="#c0c0c0"/>
<rect x="94" y="585" width="3" height="1" fill="#c0c0c0"/>
<rect x="100" y="585" width="3" height="1" fill="#c0c0c0"/>
<rect x="106" y="585" width="3" height="1" fill="#c0c0c0"/>
<rect x="112" y="585" width="3" height="1" fill="#c0c0c0"/>
<rect x="118" y="585" width="3" height="1" fill="#c0c0c0"/>
<rect x="124" y="585" width="3" height="1" fill="#c0c0c0"/>
<rect x="130" y="585" width="3" height="1" fill="#c0c0c0"/>
<rect x="136" y="585" width="3" height="1" fill="#c0c0c0"/>
<rect x="142" y="585" width="3" height="1" fill="#c0c0c0"/>
<rect x="148" y="585" width="3" height="1" fill="#c0c0c0"/>
<rect x="154" y="585" width="3" height="1" fill="#c0c0c0"/>
<rect x="160" y="585" width="3" height="1" fill="#c0c0c0"/>
<rect x="166" y="585" width="3" height="1" fill="#c0c0c0"/>
<rect x="172" y="585" width="3" height="1" fill="#c0c0c0"/>
<rect x="178" y="585" width="3" height="1" fill="#c0c0c0"/>
<rect x="184" y="585" width="3" height="1" fill="#c0c0c0"/>
<rect x="190" y="585" width="3" height="1" fill="#c0c0c0"/>
<rect x="196" y="585" width="3" height="1" fill="#c0c0c0"/>
<rect x="202" y="585" width="3" height="1" fill="#c0c0c0"/>
<rect x="208" y="585" width="3" height="1" fill="#c0c0c0"/>
<rect x="214" y="585" width="3" height="1" fill="#c0c0c0"/>
<rect x="220" y="585" width="3" height="1" fill="#c0c0c0"/>
<rect x="226" y="585" width="3" height="1" fill="#c0c0c0"/>
<rect x="232" y="585" width="3" height="1" fill="#c0c0c0"/>
<rect x="238" y="585" width="3" height="1" fill="#c0c0c0"/>
<rect x="244" y="585" width="3" height="1" fill="#c0c0c0"/>
<rect x="250" y="585" width="3" height="1" fill="#c0c0c0"/>
<rect x="256" y="585" width="3" height="1" fill="#c0c0c0"/>
<rect x="262" y="585" width="3" height="1" fill="#c0c0c0"/>
<rect x="268" y="585" width="3" height="1" fill="#c0c0c0"/>
<rect x="274" y="585" width="3" height="1" fill="#c0c0c0"/>
<rect x="280" y="585" width="3" height="1" fill="#c0c0c0"/>
<rect x="286" y="585" width="3" height="1" fill="#c0c0c0"/>
<rect x="292" y="585" width="3" height="1" fill="#c0c0c0"/>
<rect x="298" y="585" width="3" height="1" fill="#c0c0c0"/>
<rect x="304" y="585" width="3" height="1" fill="#c0c0c0"/>
<rect x="310" y="585" width="3" height="1" fill="#c0c0c0"/>
<rect x="316" y="585" width="3" height="1" fill="#c0c0c0"/>
<rect x="322" y="585" width="3" height="1" fill="#c0c0c0"/>
<rect x="328" y="585" width="3" height="1" fill="#c0c0c0"/>
<rect x="334" y="585" width="3" height="1" fill="#c0c0c0"/>
<rect x="340" y="585" width="3" height="1" fill="#c0c0c0"/>
<rect x="346" y="585" width="3" height="1" fill="#c0c0c0"/>
<rect x="352" y="585" width="3" height="1" fill="#c0c0c0"/>
<rect x="358" y="585" width="3" height="1" fill="#c0c0c0"/>
<rect x="364" y="585" width="3" height="1" fill="#c0c0c0"/>
<rect x="370" y="585" width="3" height="1" fill="#c0c0c0"/>
<rect x="376" y="585" width="3" height="1" fill="#c0c0c0"/>
<rect x="382" y="585" width="3" height="1" fill="#c0c0c0"/>
<rect x="388" y="585" width="3" height="1" fill="#c0c0c0"/>
<rect x="394" y="585" width="3" height="1" fill="#c0c0c0"/>
<rect x="400" y="585" width="3" height="1" fill="#c0c0c0"/>
<rect x="406" y="585" width="3" height="1" fill="#c0c0c0"/>
<rect x="412" y="585" width="3" height="1" fill="#c0c0c0"/>
<rect x="418" y="585" width="3" height="1" fill="#c0c0c0"/>
<rect x="424" y="585" width="3" height="1" fill="#c0c0c0"/>
<rect x="430" y="585" width="3" height="1" fill="#c0c0c0"/>
<rect x="436" y="585" width="3" height="1" fill="#c0c0c0"/>
<rect x="442" y="585" width="3" height="1" fill="#c0c0c0"/>
<rect x="448" y="585" width="3" height="1" fill="#c0c0c0"/>
<rect x="454" y="585" width="3" height="1" fill="#c0c0c0"/>
<rect x="460" y="585" width="3" height="1" fill="#c0c0c0"/>
<rect x="466" y="585" width="3" height="1" fill="#c0c0c0"/>
<rect x="472" y="585" width="3" height="1" fill="#c0c0c0"/>
<rect x="478" y="585" width="3" height="1" fill="#c0c0c0"/>
<rect x="484" y="585" width="3" height="1" fill="#c0c0c0"/>
<rect x="490" y="585" width="3" height="1" fill="#c0c0c0"/>
<rect x="496" y="585" width="3" height="1" fill="#c0c0c0"/>
<rect x="502" y="585" width="3" height="1" fill="#c0c0c0"/>
<rect x="508" y="585" width="3" height="1" fill="#c0c0c0"/>
<rect x="514" y="585" width="3" height="1" fill="#c0c0c0"/>
<rect x="520" y="585" width="3" height="1" fill="#c0c0c0"/>
<rect x="526" y="585" width="3" height="1" fill="#c0c0c0"/>
<rect x="532" y="585" width="3" height="1" fill="#c0c0c0"/>
<rect x="538" y="585" width="3" height="1" fill="#c0c0c0"/>
<rect x="544" y="585" width="3" height="1" fill="#c0c0c0"/>
<rect x="550" y="585" width="3" height="1" fill="#c0c0c0"/>
<rect x="556" y="585" width="3" height="1" fill="#c0c0c0"/>
<rect x="562" y="585" width="3" height="1" fill="#c0c0c0"/>
<rect x="568" y="585" width="3" height="1" fill="#c0c0c0"/>
<rect x="574" y="585" width="3" height="1" fill="#c0c0c0"/>
<rect x="580" y="585" width="3" height="1" fill="#c0c0c0"/>
<rect x="586" y="585" width="3" height="1" fill="#c0c0c0"/>
<rect x="592" y="585" width="3" height="1" fill="#c0c0c0"/>
<rect x="598" y="585" width="3" height="1" fill="#c0c0c0"/>
<rect x="604" y="585" width="3" height="1" fill="#c0c0c0"/>
<rect x="610" y="585" width="3" height="1" fill="#c0c0c0"/>
<rect x="616" y="585" width="3" height="1" fill="#c0c0c0"/>
<rect x="622" y="585" width="3" height="1" fill="#c0c0c0"/>
<rect x="628" y="585" width="3" height="1" fill="#c0c0c0"/>
<rect x="634" y="585" width="3" height="1" fill="#c0c0c0"/>
<rect x="640" y="585" width="3" height="1" fill="#c0c0c0"/>
<rect x="646" y="585" width="3" height="1" fill="#c0c0c0"/>
<rect x="652" y="585" width="3" height="1" fill="#c0c0c0"/>
<rect x="658" y="585" width="3" height="1" fill="#c0c0c0"/>
<rect x="664" y="585" width="3" height="1" fill="#c0c0c0"/>
<rect x="670" y="585" width="3" height="1" fill="#c0c0c0"/>
<rect x="676" y="585" width="3" height="1" fill="#c0c0c0"/>
<rect x="682" y="585" width="3" height="1" fill="#c0c0c0"/>
<rect x="688" y="585" width="3" height="1" fill="#c0c0c0"/>
<rect x="694" y="585" width="3" height="1" fill="#c0c0c0"/>
<rect x="700" y="585" width="3" height="1" fill="#c0c0c0"/>
<rect x="706" y="585" width="3" height="1" fill="#c0c0c0"/>
<rect x="712" y="585" width="3" height="1" fill="#c0c0c0"/>
<rect x="718" y="585" width="3" height="1" fill="#c0c0c0"/>
<rect x="724" y="585" width="3" height="1" fill="#c0c0c0"/>
<rect x="730" y="585" width="3" height="1" fill="#c0c0c0"/>
<rect x="736" y="585" width="3" height="1" fill="#c0c0c0"/>
<rect x="742" y="585" width="3" height="1" fill="#c0c0c0"/>
<rect x="748" y="585" width="3" height="1" fill="#c0c0c0"/>
<rect x="754" y="585" width="3" height="1" fill="#c0c0c0"/>
<rect x="760" y="585" width="3" height="1" fill="#c0c0c0"/>
<rect x="766" y="585" width="3" height="1" fill="#c0c0c0"/>
<rect x="772" y="585" width="3" height="1" fill="#c0c0c0"/>
<rect x="778" y="585" width="3" height="1" fill="#c0c0c0"/>
<rect x="784" y="585" width="3" height="1" fill="#c0c0c0"/>
<rect x="790" y="585" width="3" height="1" fill="#c0c0c0"/>
<rect x="796" y="585" width="3" height="1" fill="#c0c0c0"/>
<rect x="802" y="585" width="3" height="1" fill="#c0c0c0"/>
<rect x="808" y="585" width="3" height="1" fill="#c0c0c0"/>
<rect x="814" y="585" width="3" height="1" fill="#c0c0c0"/>
<rect x="820" y="585" width="3" height="1" fill="#c0c0c0"/>
<rect x="826" y="585" width="3" height="1" fill="#c0c0c0"/>
<rect x="832" y="585" width="3" height="1" fill="#c0c0c0"/>
<rect x="838" y="585" width="3" height="1" fill="#c0c0c0"/>
<rect x="844" y="585" width="3" height="1" fill="#c0c0c0"/>
<rect x="850" y="585" width="3" height="1" fill="#c0c0c0"/>
<rect x="856" y="585" width="3" height="1" fill="#c0c0c0"/>
<rect x="862" y="585" width="3" height="1" fill="#c0c0c0"/>
<rect x="868" y="585" width="3" height="1" fill="#c0c0c0"/>
<rect x="874" y="585" width="3" height="1" fill="#c0c0c0"/>
<rect x="880" y="585" width="3" height="1" fill="#c0c0c0"/>
<rect x="886" y="585" width="3" height="1" fill="#c0c0c0"/>
<rect x="892" y="585" width="3" height="1" fill="#c0c0c0"/>
<rect x="898" y="585" width="3" height="1" fill="#c0c0c0"/>
<rect x="904" y="585" width="3" height="1" fill="#c0c0c0"/>
<rect x="910" y="585" width="3" height="1" fill="#c0c0c0"/>
<rect x="916" y="585" width="3" height="1" fill="#c0c0c0"/>
<rect x="922" y="585" width="3" height="1" fill="#c0c0c0"/>
<rect x="928" y="585" width="3" height="1" fill="#c0c0c0"/>
<rect x="934" y="585" width="3" height="1" fill="#c0c0c0"/>
<rect x="940" y="585" width="3" height="1" fill="#c0c0c0"/>
<rect x="946" y="585" width="3" height="1" fill="#c0c0c0"/>
<rect x="952" y="585" width="3" height="1" fill="#c0c0c0"/>
<rect x="958" y="585" width="3" height="1" fill="#c0c0c0"/>
<rect x="964" y="585" width="3" height="1" fill="#c0c0c0"/>
<rect x="970" y="585" width="3" height="1" fill="#c0c0c0"/>
<rect x="976" y="585" width="3" height="1" fill="#c0c0c0"/>
<rect x="982" y="585" width="3" height="1" fill="#c0c0c0"/>
<rect x="988" y="585" width="3" height="1" fill="#c0c0c0"/>
<rect x="994" y="585" width="3" height="1" fill="#c0c0c0"/>
<rect x="1000" y="585" width="3" height="1" fill="#c0c0c0"/>
<rect x="1006" y="585" width="3" height="1" fill="#c0c0c0"/>
<rect x="1012" y="585" width="3" height="1" fill="#c0c0c0"/>
<rect x="1018" y="585" width="3" height="1" fill="#c0c0c0"/>
<rect x="1024" y="585" width="3" height="1" fill="#c0c0c0"/>
<rect x="1030" y="585" width="3" height="1" fill="#c0c0c0"/>
<rect x="1036" y="585" width="3" height="1" fill="#c0c0c0"/>
<rect x="1042" y="585" width="3" height="1" fill="#c0c0c0"/>
<rect x="1048" y="585" width="3" height="1" fill="#c0c0c0"/>
<rect x="1054" y="585" width="3" height="1" fill="#c0c0c0"/>
<rect x="1060" y="585" width="3" height="1" fill="#c0c0c0"/>
<rect x="1066" y="585" width="3" height="1" fill="#c0c0c0"/>
<rect x="1072" y="585" width="3" height="1" fill="#c0c0c0"/>
<rect x="1078" y="585" width="3" height="1" fill="#c0c0c0"/>
<rect x="1084" y="585" width="3" height="1" fill="#c0c0c0"/>
<rect x="1090" y="585" width="3" height="1" fill="#c0c0c0"/>
<rect x="1096" y="585" width="3" height="1" fill="#c0c0c0"/>
<rect x="1102" y="585" width="3" height="1" fill="#c0c0c0"/>
<rect x="1108" y="585" width="3" height="1" fill="#c0c0c0"/>
<rect x="1114" y="585" width="3" height="1" fill="#c0c0c0"/>
<rect x="1120" y="585" width="3" height="1" fill="#c0c0c0"/>
<rect x="1126" y="585" width="3" height="1" fill="#c0c0c0"/>
<rect x="1132" y="585" width="3" height="1" fill="#c0c0c0"/>
<rect x="1138" y="585" width="3" height="1" fill="#c0c0c0"/>
<rect x="1144" y="585" width="3" height="1" fill="#c0c0c0"/>
<rect x="1150" y="585" width="3" height="1" fill="#c0c0c0"/>
<rect x="1156" y="585" width="3" height="1" fill="#c0c0c0"/>
<rect x="1162" y="585" width="3" height="1" fill="#c0c0c0"/>
<rect x="1168" y="585" width="3" height="1" fill="#c0c0c0"/>
<rect x="1174" y="585" width="3" height="1" fill="#c0c0c0"/>
<rect x="1180" y="585" width="3" height="1" fill="#c0c0c0"/>
<rect x="1186" y="585" width="3" height="1" fill="#c0c0c0"/>
<rect x="4" y="632" width="3" height="1" fill="#c0c0c0"/>
<rect x="10" y="632" width="3" height="1" fill="#c0c0c0"/>
<rect x="16" y="632" width="3" height="1" fill="#c0c0c0"/>
<rect x="22" y="632" width="3" height="1" fill="#c0c0c0"/>
<rect x="28" y="632" width="3" height="1" fill="#c0c0c0"/>
<rect x="34" y="632" width="3" height="1" fill="#c0c0c0"/>
<rect x="40" y="632" width="3" height="1" fill="#c0c0c0"/>
<rect x="46" y="632" width="3" height="1" fill="#c0c0c0"/>
<rect x="52" y="632" width="3" height="1" fill="#c0c0c0"/>
<rect x="58" y="632" width="3" height="1" fill="#c0c0c0"/>
<rect x="64" y="632" width="3" height="1" fill="#c0c0c0"/>
<rect x="70" y="632" width="3" height="1" fill="#c0c0c0"/>
<rect x="76" y="632" width="3" height="1" fill="#c0c0c0"/>
<rect x="82" y="632" width="3" height="1" fill="#c0c0c0"/>
<rect x="88" y="632" width="3" height="1" fill="#c0c0c0"/>
<rect x="94" y="632" width="3" height="1" fill="#c0c0c0"/>
<rect x="100" y="632" width="3" height="1" fill="#c0c0c0"/>
<rect x="106" y="632" width="3" height="1" fill="#c0c0c0"/>
<rect x="112" y="632" width="3" height="1" fill="#c0c0c0"/>
<rect x="118" y="632" width="3" height="1" fill="#c0c0c0"/>
<rect x="124" y="632" width="3" height="1" fill="#c0c0c0"/>
<rect x="130" y="632" width="3" height="1" fill="#c0c0c0"/>
<rect x="136" y="632" width="3" height="1" fill="#c0c0c0"/>
<rect x="142" y="632" width="3" height="1" fill="#c0c0c0"/>
<rect x="148" y="632" width="3" height="1" fill="#c0c0c0"/>
<rect x="154" y="632" width="3" height="1" fill="#c0c0c0"/>
<rect x="160" y="632" width="3" height="1" fill="#c0c0c0"/>
<rect x="166" y="632" width="3" height="1" fill="#c0c0c0"/>
<rect x="172" y="632" width="3" height="1" fill="#c0c0c0"/>
<rect x="178" y="632" width="3" height="1" fill="#c0c0c0"/>
<rect x="184" y="632" width="3" height="1" fill="#c0c0c0"/>
<rect x="190" y="632" width="3" height="1" fill="#c0c0c0"/>
<rect x="196" y="632" width="3" height="1" fill="#c0c0c0"/>
<rect x="202" y="632" width="3" height="1" fill="#c0c0c0"/>
<rect x="208" y="632" width="3" height="1" fill="#c0c0c0"/>
<rect x="214" y="632" width="3" height="1" fill="#c0c0c0"/>
<rect x="220" y="632" width="3" height="1" fill="#c0c0c0"/>
<rect x="226" y="632" width="3" height="1" fill="#c0c0c0"/>
<rect x="232" y="632" width="3" height="1" fill="#c0c0c0"/>
<rect x="238" y="632" width="3" height="1" fill="#c0c0c0"/>
<rect x="244" y="632" width="3" height="1" fill="#c0c0c0"/>
<rect x="250" y="632" width="3" height="1" fill="#c0c0c0"/>
<rect x="256" y="632" width="3" height="1" fill="#c0c0c0"/>
<rect x="262" y="632" width="3" height="1" fill="#c0c0c0"/>
<rect x="268" y="632" width="3" height="1" fill="#c0c0c0"/>
<rect x="274" y="632" width="3" height="1" fill="#c0c0c0"/>
<rect x="280" y="632" width="3" height="1" fill="#c0c0c0"/>
<rect x="286" y="632" width="3" height="1" fill="#c0c0c0"/>
<rect x="292" y="632" width="3" height="1" fill="#c0c0c0"/>
<rect x="298" y="632" width="3" height="1" fill="#c0c0c0"/>
<rect x="304" y="632" width="3" height="1" fill="#c0c0c0"/>
<rect x="310" y="632" width="3" height="1" fill="#c0c0c0"/>
<rect x="316" y="632" width="3" height="1" fill="#c0c0c0"/>
<rect x="322" y="632" width="3" height="1" fill="#c0c0c0"/>
<rect x="328" y="632" width="3" height="1" fill="#c0c0c0"/>
<rect x="334" y="632" width="3" height="1" fill="#c0c0c0"/>
<rect x="340" y="632" width="3" height="1" fill="#c0c0c0"/>
<rect x="346" y="632" width="3" height="1" fill="#c0c0c0"/>
<rect x="352" y="632" width="3" height="1" fill="#c0c0c0"/>
<rect x="358" y="632" width="3" height="1" fill="#c0c0c0"/>
<rect x="364" y="632" width="3" height="1" fill="#c0c0c0"/>
<rect x="370" y="632" width="3" height="1" fill="#c0c0c0"/>
<rect x="376" y="632" width="3" height="1" fill="#c0c0c0"/>
<rect x="382" y="632" width="3" height="1" fill="#c0c0c0"/>
<rect x="388" y="632" width="3" height="1" fill="#c0c0c0"/>
<rect x="394" y="632" width="3" height="1" fill="#c0c0c0"/>
<rect x="400" y="632" width="3" height="1" fill="#c0c0c0"/>
<rect x="406" y="632" width="3" height="1" fill="#c0c0c0"/>
<rect x="412" y="632" width="3" height="1" fill="#c0c0c0"/>
<rect x="418" y="632" width="3" height="1" fill="#c0c0c0"/>
<rect x="424" y="632" width="3" height="1" fill="#c0c0c0"/>
<rect x="430" y="632" width="3" height="1" fill="#c0c0c0"/>
<rect x="436" y="632" width="3" height="1" fill="#c0c0c0"/>
<rect x="442" y="632" width="3" height="1" fill="#c0c0c0"/>
<rect x="448" y="632" width="3" height="1" fill="#c0c0c0"/>
<rect x="454" y="632" width="3" height="1" fill="#c0c0c0"/>
<rect x="460" y="632" width="3" height="1" fill="#c0c0c0"/>
<rect x="466" y="632" width="3" height="1" fill="#c0c0c0"/>
<rect x="472" y="632" width="3" height="1" fill="#c0c0c0"/>
<rect x="478" y="632" width="3" height="1" fill="#c0c0c0"/>
<rect x="484" y="632" width="3" height="1" fill="#c0c0c0"/>
<rect x="490" y="632" width="3" height="1" fill="#c0c0c0"/>
<rect x="496" y="632" width="3" height="1" fill="#c0c0c0"/>
<rect x="502" y="632" width="3" height="1" fill="#c0c0c0"/>
<rect x="508" y="632" width="3" height="1" fill="#c0c0c0"/>
<rect x="514" y="632" width="3" height="1" fill="#c0c0c0"/>
<rect x="520" y="632" width="3" height="1" fill="#c0c0c0"/>
<rect x="526" y="632" width="3" height="1" fill="#c0c0c0"/>
<rect x="532" y="632" width="3" height="1" fill="#c0c0c0"/>
<rect x="538" y="632" width="3" height="1" fill="#c0c0c0"/>
<rect x="544" y="632" width="3" height="1" fill="#c0c0c0"/>
<rect x="550" y="632" width="3" height="1" fill="#c0c0c0"/>
<rect x="556" y="632" width="3" height="1" fill="#c0c0c0"/>
<rect x="562" y="632" width="3" height="1" fill="#c0c0c0"/>
<rect x="568" y="632" width="3" height="1" fill="#c0c0c0"/>
<rect x="574" y="632" width="3" height="1" fill="#c0c0c0"/>
<rect x="580" y="632" width="3" height="1" fill="#c0c0c0"/>
<rect x="586" y="632" width="3" height="1" fill="#c0c0c0"/>
<rect x="592" y="632" width="3" height="1" fill="#c0c0c0"/>
<rect x="598" y="632" width="3" height="1" fill="#c0c0c0"/>
<rect x="604" y="632" width="3" height="1" fill="#c0c0c0"/>
<rect x="610" y="632" width="3" height="1" fill="#c0c0c0"/>
<rect x="616" y="632" width="3" height="1" fill="#c0c0c0"/>
<rect x="622" y="632" width="3" height="1" fill="#c0c0c0"/>
<rect x="628" y="632" width="3" height="1" fill="#c0c0c0"/>
<rect x="634" y="632" width="3" height="1" fill="#c0c0c0"/>
<rect x="640" y="632" width="3" height="1" fill="#c0c0c0"/>
<rect x="646" y="632" width="3" height="1" fill="#c0c0c0"/>
<rect x="652" y="632" width="3" height="1" fill="#c0c0c0"/>
<rect x="658" y="632" width="3" height="1" fill="#c0c0c0"/>
<rect x="664" y="632" width="3" height="1" fill="#c0c0c0"/>
<rect x="670" y="632" width="3" height="1" fill="#c0c0c0"/>
<rect x="676" y="632" width="3" height="1" fill="#c0c0c0"/>
<rect x="682" y="632" width="3" height="1" fill="#c0c0c0"/>
<rect x="688" y="632" width="3" height="1" fill="#c0c0c0"/>
<rect x="694" y="632" width="3" height="1" fill="#c0c0c0"/>
<rect x="700" y="632" width="3" height="1" fill="#c0c0c0"/>
<rect x="706" y="632" width="3" height="1" fill="#c0c0c0"/>
<rect x="712" y="632" width="3" height="1" fill="#c0c0c0"/>
<rect x="718" y="632" width="3" height="1" fill="#c0c0c0"/>
<rect x="724" y="632" width="3" height="1" fill="#c0c0c0"/>
<rect x="730" y="632" width="3" height="1" fill="#c0c0c0"/>
<rect x="736" y="632" width="3" height="1" fill="#c0c0c0"/>
<rect x="742" y="632" width="3" height="1" fill="#c0c0c0"/>
<rect x="748" y="632" width="3" height="1" fill="#c0c0c0"/>
<rect x="754" y="632" width="3" height="1" fill="#c0c0c0"/>
<rect x="760" y="632" width="3" height="1" fill="#c0c0c0"/>
<rect x="766" y="632" width="3" height="1" fill="#c0c0c0"/>
<rect x="772" y="632" width="3" height="1" fill="#c0c0c0"/>
<rect x="778" y="632" width="3" height="1" fill="#c0c0c0"/>
<rect x="784" y="632" width="3" height="1" fill="#c0c0c0"/>
<rect x="790" y="632" width="3" height="1" fill="#c0c0c0"/>
<rect x="796" y="632" width="3" height="1" fill="#c0c0c0"/>
<rect x="802" y="632" width="3" height="1" fill="#c0c0c0"/>
<rect x="808" y="632" width="3" height="1" fill="#c0c0c0"/>
<rect x="814" y="632" width="3" height="1" fill="#c0c0c0"/>
<rect x="820" y="632" width="3" height="1" fill="#c0c0c0"/>
<rect x="826" y="632" width="3" height="1" fill="#c0c0c0"/>
<rect x="832" y="632" width="3" height="1" fill="#c0c0c0"/>
<rect x="838" y="632" width="3" height="1" fill="#c0c0c0"/>
<rect x="844" y="632" width="3" height="1" fill="#c0c0c0"/>
<rect x="850" y="632" width="3" height="1" fill="#c0c0c0"/>
<rect x="856" y="632" width="3" height="1" fill="#c0c0c0"/>
<rect x="862" y="632" width="3" height="1" fill="#c0c0c0"/>
<rect x="868" y="632" width="3" height="1" fill="#c0c0c0"/>
<rect x="874" y="632" width="3" height="1" fill="#c0c0c0"/>
<rect x="880" y="632" width="3" height="1" fill="#c0c0c0"/>
<rect x="886" y="632" width="3" height="1" fill="#c0c0c0"/>
<rect x="892" y="632" width="3" height="1" fill="#c0c0c0"/>
<rect x="898" y="632" width="3" height="1" fill="#c0c0c0"/>
<rect x="904" y="632" width="3" height="1" fill="#c0c0c0"/>
<rect x="910" y="632" width="3" height="1" fill="#c0c0c0"/>
<rect x="916" y="632" width="3" height="1" fill="#c0c0c0"/>
<rect x="922" y="632" width="3" height="1" fill="#c0c0c0"/>
<rect x="928" y="632" width="3" height="1" fill="#c0c0c0"/>
<rect x="934" y="632" width="3" height="1" fill="#c0c0c0"/>
<rect x="940" y="632" width="3" height="1" fill="#c0c0c0"/>
<rect x="946" y="632" width="3" height="1" fill="#c0c0c0"/>
<rect x="952" y="632" width="3" height="1" fill="#c0c0c0"/>
<rect x="958" y="632" width="3" height="1" fill="#c0c0c0"/>
<rect x="964" y="632" width="3" height="1" fill="#c0c0c0"/>
<rect x="970" y="632" width="3" height="1" fill="#c0c0c0"/>
<rect x="976" y="632" width="3" height="1" fill="#c0c0c0"/>
<rect x="982" y="632" width="3" height="1" fill="#c0c0c0"/>
<rect x="988" y="632" width="3" height="1" fill="#c0c0c0"/>
<rect x="994" y="632" width="3" height="1" fill="#c0c0c0"/>
<rect x="1000" y="632" width="3" height="1" fill="#c0c0c0"/>
<rect x="1006" y="632" width="3" height="1" fill="#c0c0c0"/>
<rect x="1012" y="632" width="3" height="1" fill="#c0c0c0"/>
<rect x="1018" y="632" width="3" height="1" fill="#c0c0c0"/>
<rect x="1024" y="632" width="3" height="1" fill="#c0c0c0"/>
<rect x="1030" y="632" width="3" height="1" fill="#c0c0c0"/>
<rect x="1036" y="632" width="3" height="1" fill="#c0c0c0"/>
<rect x="1042" y="632" width="3" height="1" fill="#c0c0c0"/>
<rect x="1048" y="632" width="3" height="1" fill="#c0c0c0"/>
<rect x="1054" y="632" width="3" height="1" fill="#c0c0c0"/>
<rect x="1060" y="632" width="3" height="1" fill="#c0c0c0"/>
<rect x="1066" y="632" width="3" height="1" fill="#c0c0c0"/>
<rect x="1072" y="632" width="3" height="1" fill="#c0c0c0"/>
<rect x="1078" y="632" width="3" height="1" fill="#c0c0c0"/>
<rect x="1084" y="632" width="3" height="1" fill="#c0c0c0"/>
<rect x="1090" y="632" width="3" height="1" fill="#c0c0c0"/>
<rect x="1096" y="632" width="3" height="1" fill="#c0c0c0"/>
<rect x="1102" y="632" width="3" height="1" fill="#c0c0c0"/>
<rect x="1108" y="632" width="3" height="1" fill="#c0c0c0"/>
<rect x="1114" y="632" width="3" height="1" fill="#c0c0c0"/>
<rect x="1120" y="632" width="3" height="1" fill="#c0c0c0"/>
<rect x="1126" y="632" width="3" height="1" fill="#c0c0c0"/>
<rect x="1132" y="632" width="3" height="1" fill="#c0c0c0"/>
<rect x="1138" y="632" width="3" height="1" fill="#c0c0c0"/>
<rect x="1144" y="632" width="3" height="1" fill="#c0c0c0"/>
<rect x="1150" y="632" width="3" height="1" fill="#c0c0c0"/>
<rect x="1156" y="632" width="3" height="1" fill="#c0c0c0"/>
<rect x="1162" y="632" width="3" height="1" fill="#c0c0c0"/>
<rect x="1168" y="632" width="3" height="1" fill="#c0c0c0"/>
<rect x="1174" y="632" width="3" height="1" fill="#c0c0c0"/>
<rect x="1180" y="632" width="3" height="1" fill="#c0c0c0"/>
<rect x="1186" y="632" width="3" height="1" fill="#c0c0c0"/>
<polyline points="3.5,591.6 11.5,587.3 19.5,584.8 27.5,584.8 35.5,582.8 43.5,584.8 51.5,593.1 59.5,595.6 67.5,594.8 75.5,597.8 83.5,591.8 91.5,591.8 99.5,588.1 107.5,582.8 115.5,584.1 123.5,584.1 131.5,585.3 139.5,584.1 147.5,585.6 155.5,598.1 163.5,602.3 171.5,602.3 179.5,598.1 187.5,606.6 195.5,608.6 203.5,599.8 211.5,599.8 219.5,601.1 227.5,608.6 235.5,611.6 243.5,618.6 251.5,619.1 259.5,623.6 267.5,632.6 275.5,626.1 283.5,630.6 291.5,632.6 299.5,623.6 307.5,622.1 315.5,622.9 323.5,619.1 331.5,617.4 339.5,613.1 347.5,614.8 355.5,614.8 363.5,625.6 371.5,622.9 379.5,626.6 387.5,619.1 395.5,624.6 403.5,623.1 411.5,624.1 419.5,626.6 427.5,628.1 435.5,623.1 443.5,623.1 451.5,622.9 459.5,621.6 467.5,619.9 475.5,617.4 483.5,613.1 491.5,607.3 499.5,606.6 507.5,602.8 515.5,604.8 523.5,605.1 531.5,611.1 539.5,620.6 547.5,615.6 555.5,611.6 563.5,608.1 571.5,609.1 579.5,621.1 587.5,627.6 595.5,627.6 603.5,623.1 611.5,626.1 619.5,619.9 627.5,628.6 635.5,620.6 643.5,619.9 651.5,623.1 659.5,618.1 667.5,619.9 675.5,618.6 683.5,613.1 691.5,614.1 699.5,619.9 707.5,618.1 715.5,625.6 723.5,621.6 731.5,621.1 739.5,619.9 747.5,615.6 755.5,614.1 763.5,606.1 771.5,598.1 779.5,601.1 787.5,599.9 795.5,601.7 803.5,601.9 811.5,596.9 819.5,592.6 827.5,589.2 835.5,589.0 843.5,591.0 851.5,595.4 859.5,597.8 867.5,595.0 875.5,586.2 883.5,584.7 891.5,581.7 899.5,592.0 907.5,589.6 915.5,586.9 923.5,586.9 931.5,588.1 939.5,586.1 947.5,594.1 955.5,598.1 963.5,615.6 971.5,615.6 979.5,614.8 987.5,611.1 995.5,609.3 1003.5,608.6 1011.5,621.6 1019.5,614.1 1027.5,613.6 1035.5,610.6 1043.5,606.8 1051.5,610.6 1059.5,607.8 1067.5,609.3 1075.5,608.1 1083.5,613.6 1091.5,610.6 1099.5,614.1 1107.5,617.4 1115.5,618.6 1123.5,619.1 1131.5,626.6 1139.5,630.6 1147.5,634.1 1155.5,637.6 1163.5,621.6 1171.5,622.9" fill="none" stroke="#1e90ff" stroke-width="1"/>
</g>
<rect x="1191" y="31" width="2" height="1" fill="#000"/>
<text x="1196.5" y="35" fill="#000" stroke="#000" textLength="31.8" lengthAdjust="spacingAndGlyphs">123.205</text>
<rect x="1191" y="64" width="2" height="1" fill="#000"/>
<text x="1196.5" y="68" fill="#000" stroke="#000" textLength="31.8" lengthAdjust="spacingAndGlyphs">120.995</text>
<rect x="1191" y="97" width="2" height="1" fill="#000"/>
<text x="1196.5" y="101" fill="#000" stroke="#000" textLength="31.2" lengthAdjust="spacingAndGlyphs">118.850</text>
<rect x="1191" y="130" width="2" height="1" fill="#000"/>
<text x="1196.5" y="134" fill="#000" stroke="#000" textLength="31.2" lengthAdjust="spacingAndGlyphs">116.640</text>
<rect x="1191" y="163" width="2" height="1" fill="#000"/>
<text x="1196.5" y="167" fill="#000" stroke="#000" textLength="31.2" lengthAdjust="spacingAndGlyphs">114.495</text>
<rect x="1191" y="196" width="2" height="1" fill="#000"/>
<text x="1196.5" y="200" fill="#000" stroke="#000" textLength="31.2" lengthAdjust="spacingAndGlyphs">112.285</text>
<rect x="1191" y="229" width="2" height="1" fill="#000"/>
<text x="1196.5" y="233" fill="#000" stroke="#000" textLength="31.2" lengthAdjust="spacingAndGlyphs">110.140</text>
<rect x="1191" y="262" width="2" height="1" fill="#000"/>
<text x="1196.5" y="266" fill="#000" stroke="#000" textLength="31.8" lengthAdjust="spacingAndGlyphs">107.930</text>
<rect x="1191" y="295" width="2" height="1" fill="#000"/>
<text x="1196.5" y="299" fill="#000" stroke="#000" textLength="31.8" lengthAdjust="spacingAndGlyphs">105.785</text>
<rect x="1191" y="327" width="2" height="1" fill="#000"/>
<text x="1196.5" y="331" fill="#000" stroke="#000" textLength="31.8" lengthAdjust="spacingAndGlyphs">103.575</text>
<rect x="1191" y="361" width="2" height="1" fill="#000"/>
<rect x="1191" y="394" width="2" height="1" fill="#000"/>
<text x="1196.5" y="398" fill="#000" stroke="#000" textLength="26.9" lengthAdjust="spacingAndGlyphs">99.220</text>
<rect x="1191" y="427" width="2" height="1" fill="#000"/>
<text x="1196.5" y="431" fill="#000" stroke="#000" textLength="26.9" lengthAdjust="spacingAndGlyphs">97.075</text>
<rect x="1193" y="240" width="39" height="11" fill="#ff0000"/>
<text x="1196" y="249" fill="#fff" stroke="#fff" textLength="31.8" lengthAdjust="spacingAndGlyphs">109.000</text>
<rect x="1193" y="293" width="39" height="11" fill="#ff0000"/>
<text x="1196" y="302" fill="#fff" stroke="#fff" textLength="31.8" lengthAdjust="spacingAndGlyphs">105.500</text>
<rect x="1193" y="340" width="39" height="11" fill="#000"/>
<text x="1196" y="349" fill="#fff" stroke="#fff" textLength="31.8" lengthAdjust="spacingAndGlyphs">102.455</text>
<rect x="1193" y="354" width="39" height="11" fill="#00c800"/>
<text x="1196" y="363" fill="#fff" stroke="#fff" textLength="31.8" lengthAdjust="spacingAndGlyphs">101.500</text>
<rect x="1193" y="407" width="34" height="11" fill="#4050dd"/>
<text x="1196" y="416" fill="#fff" stroke="#fff" textLength="26.9" lengthAdjust="spacingAndGlyphs">98.000</text>
<rect x="1191" y="432" width="2" height="1" fill="#000"/>
<text x="1194" y="443" fill="#000" stroke="#000" textLength="26.9" lengthAdjust="spacingAndGlyphs">3.6741</text>
<rect x="1191" y="498" width="2" height="1" fill="#000"/>
<text x="1195" y="502" fill="#000" stroke="#000" textLength="17.1" lengthAdjust="spacingAndGlyphs">0.00</text>
<text x="1194" y="544" fill="#000" stroke="#000" textLength="29.9" lengthAdjust="spacingAndGlyphs">-2.7984</text>
<rect x="1191" y="547" width="2" height="1" fill="#000"/>
<rect x="1191" y="549" width="2" height="1" fill="#000"/>
<text x="1194" y="560" fill="#000" stroke="#000" textLength="14.7" lengthAdjust="spacingAndGlyphs">100</text>
<text x="1193" y="590" fill="#000" stroke="#000" textLength="9.8" lengthAdjust="spacingAndGlyphs">70</text>
<text x="1193" y="636" fill="#000" stroke="#000" textLength="9.8" lengthAdjust="spacingAndGlyphs">30</text>
<text x="1194" y="664" fill="#000" stroke="#000" textLength="4.9" lengthAdjust="spacingAndGlyphs">0</text>
<rect x="1191" y="667" width="2" height="1" fill="#000"/>
<rect x="3" y="668" width="1" height="3" fill="#000"/>
<text x="1.5" y="680" fill="#000" stroke="#000" textLength="52.2" lengthAdjust="spacingAndGlyphs">21 Mar 2022</text>
<rect x="67" y="668" width="1" height="3" fill="#000"/>
<text x="65.5" y="680" fill="#000" stroke="#000" textLength="54.8" lengthAdjust="spacingAndGlyphs">22 Mar 16:00</text>
<rect x="131" y="668" width="1" height="3" fill="#000"/>
<text x="129.5" y="680" fill="#000" stroke="#000" textLength="54.8" lengthAdjust="spacingAndGlyphs">24 Mar 00:00</text>
<rect x="195" y="668" width="1" height="3" fill="#000"/>
<text x="193.5" y="680" fill="#000" stroke="#000" textLength="54.8" lengthAdjust="spacingAndGlyphs">25 Mar 08:00</text>
<rect x="259" y="668" width="1" height="3" fill="#000"/>
<text x="257.5" y="680" fill="#000" stroke="#000" textLength="54.8" lengthAdjust="spacingAndGlyphs">28 Mar 16:00</text>
<rect x="323" y="668" width="1" height="3" fill="#000"/>
<text x="321.5" y="680" fill="#000" stroke="#000" textLength="54.8" lengthAdjust="spacingAndGlyphs">30 Mar 04:00</text>
<rect x="387" y="668" width="1" height="3" fill="#000"/>
<text x="385.5" y="680" fill="#000" stroke="#000" textLength="54.8" lengthAdjust="spacingAndGlyphs">31 Mar 12:00</text>
<rect x="451" y="668" width="1" height="3" fill="#000"/>
<text x="449.5" y="680" fill="#000" stroke="#000" textLength="47.6" lengthAdjust="spacingAndGlyphs">1 Apr 20:00</text>
<rect x="515" y="668" width="1" height="3" fill="#000"/>
<text x="513.5" y="680" fill="#000" stroke="#000" textLength="47.6" lengthAdjust="spacingAndGlyphs">5 Apr 04:00</text>
<rect x="579" y="668" width="1" height="3" fill="#000"/>
<text x="577.5" y="680" fill="#000" stroke="#000" textLength="47.6" lengthAdjust="spacingAndGlyphs">6 Apr 12:00</text>
<rect x="643" y="668" width="1" height="3" fill="#000"/>
<text x="641.5" y="680" fill="#000" stroke="#000" textLength="47.6" lengthAdjust="spacingAndGlyphs">7 Apr 20:00</text>
<rect x="707" y="668" width="1" height="3" fill="#000"/>
<text x="705.5" y="680" fill="#000" stroke="#000" textLength="52.1" lengthAdjust="spacingAndGlyphs">11 Apr 04:00</text>
<rect x="771" y="668" width="1" height="3" fill="#000"/>
<text x="769.5" y="680" fill="#000" stroke="#000" textLength="52.8" lengthAdjust="spacingAndGlyphs">12 Apr 12:00</text>
<rect x="835" y="668" width="1" height="3" fill="#000"/>
<text x="833.5" y="680" fill="#000" stroke="#000" textLength="52.8" lengthAdjust="spacingAndGlyphs">13 Apr 20:00</text>
<rect x="899" y="668" width="1" height="3" fill="#000"/>
<text x="897.5" y="680" fill="#000" stroke="#000" textLength="52.8" lengthAdjust="spacingAndGlyphs">18 Apr 04:00</text>
<rect x="963" y="668" width="1" height="3" fill="#000"/>
<text x="961.5" y="680" fill="#000" stroke="#000" textLength="52.8" lengthAdjust="spacingAndGlyphs">19 Apr 12:00</text>
<rect x="1027" y="668" width="1" height="3" fill="#000"/>
<text x="1025.5" y="680" fill="#000" stroke="#000" textLength="52.8" lengthAdjust="spacingAndGlyphs">20 Apr 20:00</text>
<rect x="1091" y="668" width="1" height="3" fill="#000"/>
<text x="1089.5" y="680" fill="#000" stroke="#000" textLength="52.8" lengthAdjust="spacingAndGlyphs">22 Apr 04:00</text>
<rect x="1155" y="668" width="1" height="3" fill="#000"/>
<text x="1153.5" y="680" fill="#000" stroke="#000" textLength="52.8" lengthAdjust="spacingAndGlyphs">25 Apr 12:00</text>
<path d="M5.5,9.5 L13.5,9.5 L9.5,13.5 Z" fill="#000"/>
<text x="17.5" y="14" fill="#000" stroke="#000" textLength="43.2" lengthAdjust="spacingAndGlyphs">UKOil-,H4</text>
<text x="67.5" y="14" fill="#000" stroke="#000" textLength="32.0" lengthAdjust="spacingAndGlyphs">102.784</text>
<text x="103" y="14" fill="#000" stroke="#000" textLength="32.0" lengthAdjust="spacingAndGlyphs">102.869</text>
<text x="139" y="14" fill="#000" stroke="#000" textLength="32.0" lengthAdjust="spacingAndGlyphs">102.230</text>
<text x="175" y="14" fill="#000" stroke="#000" textLength="32.0" lengthAdjust="spacingAndGlyphs">102.455</text>
<text x="6.5" y="445" fill="#000" stroke="#000" textLength="133.6" lengthAdjust="spacingAndGlyphs">MACD(12,26,9) -1.6751 -1.0326</text>
<text x="6.5" y="562" fill="#000" stroke="#000" textLength="67.5" lengthAdjust="spacingAndGlyphs">RSI(14) 38.2533</text>
</svg>
<div class="cn">多空转折点</div><div class="cd">101.5</div>
</body></html>
